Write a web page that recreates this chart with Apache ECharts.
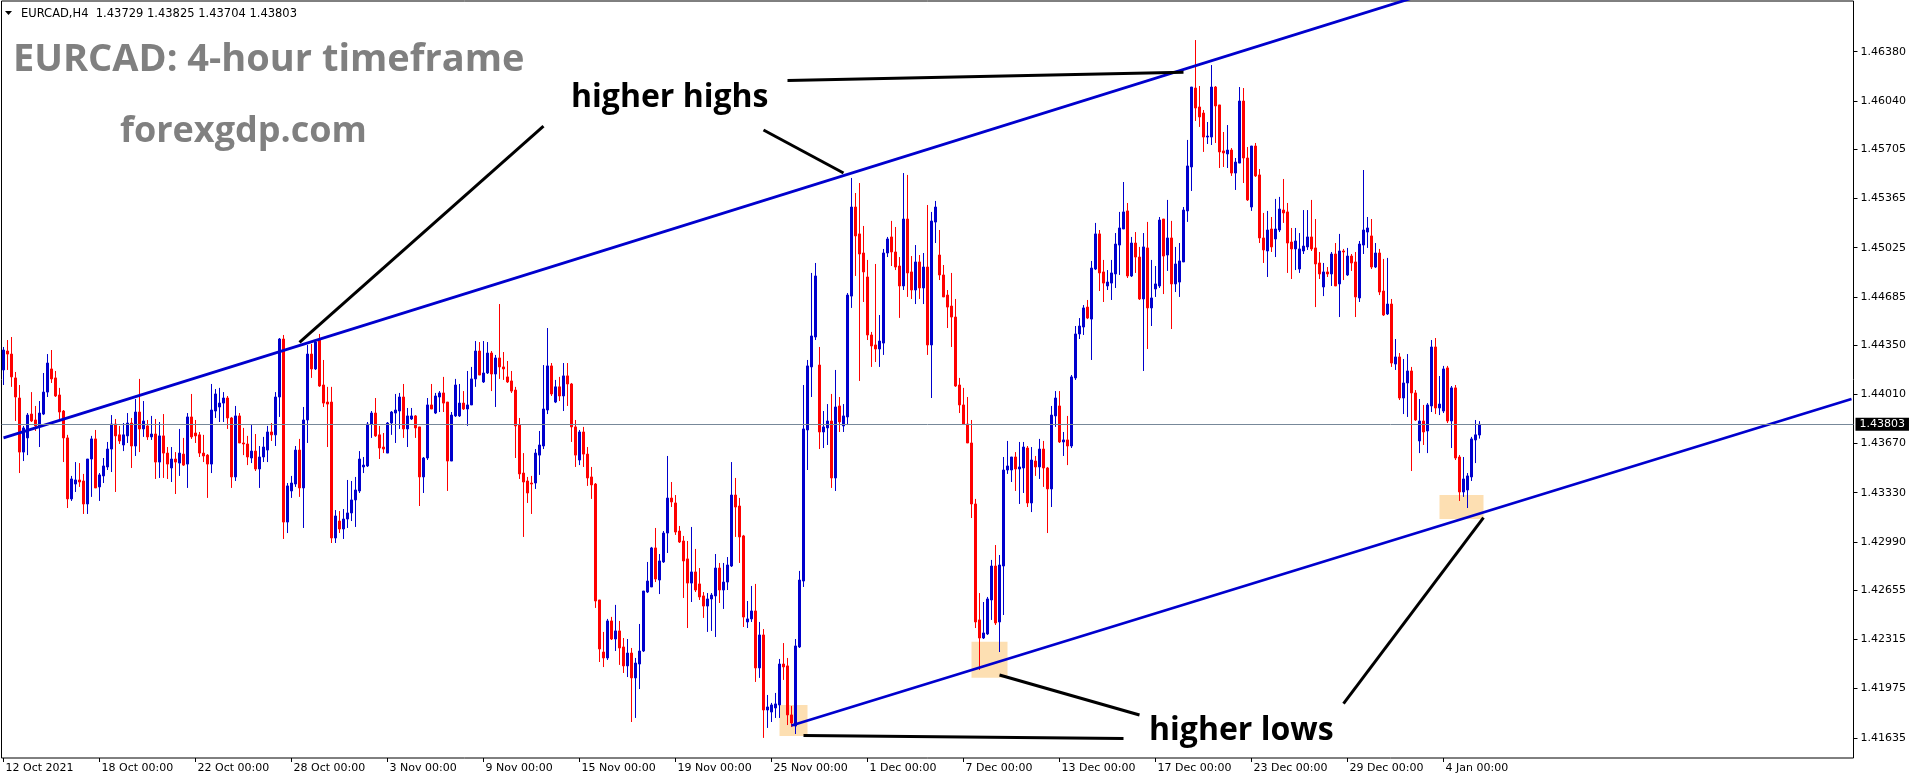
<!DOCTYPE html>
<html>
<head>
<meta charset="utf-8">
<script src="https://cdn.jsdelivr.net/npm/echarts@6/dist/echarts.min.js"></script>
<style>
html,body{margin:0;padding:0;background:#fff;}
#chart{width:1916px;height:780px;}
</style>
</head>
<body>
<div id="chart"></div>
<script>
// ---- EURCAD H4 candles ----
const opens = [
1.44179,1.44310,1.44289,1.44124,1.43985,1.43611,1.43709,1.43874,1.43833,1.43792,
1.43874,1.44026,1.44186,1.44124,1.44006,1.43895,1.43709,1.43287,1.43390,1.43418,
1.43411,1.43252,1.43563,1.43702,1.43370,1.43446,1.43508,1.43632,1.43805,1.43730,
1.43660,1.43723,1.43812,1.43653,1.43888,1.43771,1.43792,1.43716,1.43736,1.43542,
1.43723,1.43604,1.43501,1.43563,1.43535,1.43597,1.43528,1.43854,1.43743,1.43730,
1.43604,1.43590,1.43528,1.43895,1.43923,1.43950,1.43985,1.43847,1.43439,1.43861,
1.43674,1.43667,1.43570,1.43618,1.43494,1.43577,1.43625,1.43750,1.43730,1.43992,
1.44393,1.43127,1.43342,1.43390,1.43625,1.43363,1.43833,1.44289,1.44186,1.44386,
1.44075,1.43957,1.43957,1.43017,1.43134,1.43079,1.43148,1.43190,1.43280,1.43342,
1.43508,1.43515,1.43805,1.43881,1.43730,1.43646,1.43604,1.43812,1.43881,1.43895,
1.43992,1.43771,1.43840,1.43861,1.43785,1.43439,1.43570,1.43937,1.43881,1.43992,
1.44020,1.43957,1.43549,1.43861,1.43861,1.43950,1.43909,1.43937,1.44117,1.44310,
1.44096,1.44158,1.44296,1.44151,1.44262,1.44200,1.44131,1.44103,1.44040,1.43798,
1.43466,1.43411,1.43397,1.43397,1.43590,1.43653,1.43902,1.44207,1.43957,1.44062,
1.43999,1.44138,1.44082,1.43785,1.43556,1.43750,1.43597,1.43439,1.43390,1.42588,
1.42228,1.42187,1.42443,1.42318,1.42374,1.42263,1.42132,1.42221,1.42049,1.42145,
1.42235,1.42643,1.42678,1.42948,1.42726,1.42851,1.43051,1.43293,1.43259,1.43065,
1.42996,1.42872,1.42705,1.42782,1.42699,1.42616,1.42546,1.42595,1.42616,1.42809,
1.42657,1.42712,1.42823,1.43314,1.43238,1.43031,1.42436,1.42457,1.42512,1.42118,
1.42346,1.41827,1.41813,1.41841,1.41862,1.42145,1.42132,1.41793,1.41716,1.42263,
1.42719,1.43764,1.44200,1.44407,1.44213,1.43750,1.43778,1.43826,1.43432,1.43930,
1.43792,1.43854,1.44690,1.45306,1.45120,1.44988,1.44822,1.44421,1.44352,1.44324,
1.44365,1.44988,1.45099,1.44995,1.44898,1.44760,1.45223,1.44857,1.44732,1.44926,
1.44746,1.44891,1.44352,1.45202,1.44974,1.44836,1.44697,1.44621,1.44545,1.44075,
1.43937,1.43805,1.43674,1.43252,1.42450,1.42325,1.42353,1.42588,1.42823,1.42436,
1.42823,1.43487,1.43487,1.43577,1.43494,1.43501,1.43639,1.43259,1.43549,1.43508,
1.43632,1.43501,1.43356,1.43861,1.43930,1.43681,1.43695,1.43653,1.44124,1.44428,
1.44476,1.44614,1.44531,1.44877,1.45120,1.44857,1.44760,1.44780,1.44843,1.45043,
1.45154,1.45279,1.44829,1.45057,1.44960,1.44670,1.45023,1.44608,1.44739,1.44760,
1.45223,1.44974,1.45092,1.44774,1.44787,1.44926,1.45279,1.45583,1.46129,1.45998,
1.45956,1.45790,1.45790,1.46136,1.46012,1.45694,1.45673,1.45700,1.45541,1.45610,
1.46039,1.45645,1.45306,1.45728,1.45528,1.45092,1.45002,1.45154,1.45085,1.45147,
1.45285,1.45272,1.45064,1.45016,1.44877,1.45002,1.45030,1.45099,1.45023,1.44919,
1.44753,1.44857,1.44843,1.44981,1.44774,1.45002,1.44836,1.44967,1.44926,1.44677,
1.45043,1.45133,1.45106,1.44891,1.44988,1.44725,1.44566,1.44635,1.44220,1.44269,
1.43985,1.44089,1.44172,1.44020,1.43688,1.43826,1.43757,1.43930,1.44338,1.43916,
1.43895,1.44193,1.43826,1.44055,1.43577,1.43335,1.43349,1.43439,1.43695,1.43729
];
const closes = [
1.44317,1.44289,1.44131,1.43992,1.43611,1.43778,1.43867,1.43826,1.43792,1.43881,
1.44026,1.44227,1.44117,1.43999,1.43888,1.43709,1.43287,1.43425,1.43418,1.43404,
1.43252,1.43563,1.43702,1.43363,1.43453,1.43515,1.43632,1.43805,1.43723,1.43688,
1.43730,1.43812,1.43653,1.43888,1.43771,1.43826,1.43716,1.43736,1.43542,1.43723,
1.43604,1.43528,1.43563,1.43542,1.43604,1.43521,1.43854,1.43716,1.43723,1.43604,
1.43584,1.43528,1.43902,1.44013,1.43950,1.43985,1.43847,1.43439,1.43861,1.43674,
1.43667,1.43577,1.43618,1.43494,1.43577,1.43646,1.43750,1.43730,1.43992,1.44393,
1.43127,1.43377,1.43397,1.43625,1.43363,1.43833,1.44289,1.44186,1.44372,1.44068,
1.43950,1.43943,1.43017,1.43169,1.43079,1.43148,1.43190,1.43280,1.43349,1.43563,
1.43521,1.43805,1.43881,1.43723,1.43639,1.43632,1.43812,1.43888,1.43902,1.43992,
1.43771,1.43861,1.43861,1.43778,1.43439,1.43570,1.43937,1.43909,1.43999,1.44020,
1.43950,1.43549,1.43867,1.44075,1.43950,1.43909,1.43937,1.44117,1.44310,1.44144,
1.44158,1.44296,1.44151,1.44262,1.44200,1.44186,1.44096,1.44033,1.43792,1.43460,
1.43404,1.43328,1.43390,1.43604,1.43660,1.43909,1.44207,1.44013,1.44062,1.43999,
1.44138,1.44082,1.43785,1.43590,1.43750,1.43597,1.43432,1.43384,1.42581,1.42249,
1.42187,1.42443,1.42318,1.42374,1.42256,1.42132,1.42221,1.42049,1.42152,1.42235,
1.42650,1.42719,1.42948,1.42733,1.42858,1.43051,1.43293,1.43266,1.43058,1.42989,
1.42858,1.42705,1.42782,1.42657,1.42609,1.42546,1.42595,1.42622,1.42809,1.42657,
1.42712,1.42830,1.43314,1.43231,1.43024,1.42470,1.42457,1.42512,1.42118,1.42346,
1.41827,1.41848,1.41862,1.41869,1.42145,1.42125,1.41793,1.41737,1.42270,1.42726,
1.43771,1.44207,1.44414,1.44829,1.43750,1.43785,1.43826,1.43432,1.43923,1.43819,
1.43861,1.44697,1.45306,1.45106,1.44981,1.44857,1.44421,1.44345,1.44324,1.44379,
1.44988,1.45085,1.44995,1.44891,1.44760,1.45223,1.44850,1.44732,1.44926,1.44746,
1.44891,1.44352,1.45209,1.45306,1.44836,1.44684,1.44614,1.44545,1.44068,1.43937,
1.43805,1.43674,1.43252,1.42436,1.42325,1.42360,1.42595,1.42823,1.42429,1.42830,
1.43487,1.43515,1.43577,1.43494,1.43508,1.43646,1.43259,1.43556,1.43508,1.43632,
1.43501,1.43356,1.43867,1.43985,1.43681,1.43695,1.43653,1.44131,1.44428,1.44483,
1.44608,1.44538,1.44884,1.45120,1.44850,1.44780,1.44787,1.44850,1.45050,1.45161,
1.45272,1.44829,1.45057,1.44960,1.44670,1.45030,1.44608,1.44677,1.44774,1.45216,
1.44967,1.45092,1.44774,1.44912,1.44933,1.45285,1.45590,1.46136,1.45991,1.45929,
1.45790,1.45797,1.46136,1.46005,1.45687,1.45680,1.45700,1.45541,1.45617,1.46039,
1.45645,1.45355,1.45728,1.45521,1.45092,1.45009,1.45147,1.45030,1.45154,1.45292,
1.45265,1.45057,1.45016,1.45071,1.45016,1.45036,1.45099,1.45016,1.44912,1.44843,
1.44857,1.44843,1.44981,1.44760,1.45002,1.44995,1.44967,1.44919,1.44684,1.45050,
1.45147,1.45161,1.44891,1.44988,1.44718,1.44559,1.44635,1.44227,1.44269,1.43985,
1.44089,1.44172,1.44020,1.43833,1.43826,1.43750,1.43937,1.44338,1.43916,1.43943,
1.44186,1.43826,1.44055,1.43570,1.43335,1.43425,1.43446,1.43702,1.43730,1.43803
];
const highs = [
1.44338,1.44386,1.44407,1.44165,1.44075,1.43792,1.43881,1.44026,1.43930,1.43964,
1.44158,1.44289,1.44317,1.44172,1.44055,1.43902,1.43730,1.43446,1.43542,1.43535,
1.43460,1.43563,1.43723,1.43764,1.43466,1.43570,1.43681,1.43867,1.43840,1.43792,
1.43812,1.43881,1.43847,1.43978,1.44117,1.43964,1.43833,1.43861,1.43840,1.43819,
1.43874,1.43646,1.43646,1.43611,1.43771,1.43709,1.43881,1.44013,1.43833,1.43750,
1.43730,1.43597,1.44082,1.44047,1.44055,1.44026,1.43999,1.43854,1.43930,1.43881,
1.43778,1.43723,1.43798,1.43736,1.43653,1.43716,1.43792,1.43812,1.44026,1.44400,
1.44421,1.43397,1.43446,1.43653,1.43702,1.43923,1.44352,1.44359,1.44379,1.44428,
1.44248,1.44062,1.44062,1.43210,1.43203,1.43217,1.43418,1.43411,1.43439,1.43618,
1.43577,1.43819,1.43895,1.43985,1.43792,1.43743,1.43819,1.43895,1.44013,1.44020,
1.44082,1.43916,1.43916,1.43867,1.43785,1.43577,1.43985,1.44082,1.44020,1.44033,
1.44131,1.43957,1.43888,1.44117,1.44082,1.44033,1.44172,1.44200,1.44379,1.44372,
1.44379,1.44372,1.44310,1.44283,1.44635,1.44303,1.44241,1.44172,1.44062,1.43847,
1.43604,1.43439,1.43446,1.43632,1.43757,1.44213,1.44469,1.44227,1.44110,1.44131,
1.44227,1.44227,1.44089,1.43833,1.43764,1.43785,1.43646,1.43508,1.43397,1.42588,
1.42367,1.42457,1.42471,1.42554,1.42443,1.42325,1.42318,1.42256,1.42187,1.42422,
1.42650,1.42851,1.42955,1.43086,1.42906,1.43065,1.43584,1.43404,1.43314,1.43100,
1.43031,1.42996,1.43093,1.42941,1.42809,1.42643,1.42636,1.42636,1.42906,1.42844,
1.42844,1.42885,1.43542,1.43432,1.43294,1.43038,1.42581,1.42685,1.42699,1.42436,
1.42387,1.41931,1.41876,1.41945,1.42180,1.42290,1.42187,1.41855,1.42318,1.42789,
1.44075,1.44248,1.44850,1.44919,1.44338,1.43895,1.43943,1.44013,1.44179,1.43992,
1.43943,1.44711,1.45507,1.45403,1.45472,1.45175,1.44940,1.44442,1.44912,1.44559,
1.45016,1.45099,1.45210,1.45168,1.44960,1.45541,1.45528,1.44967,1.45043,1.44974,
1.44988,1.45320,1.45272,1.45348,1.45147,1.44905,1.44732,1.44850,1.44670,1.44124,
1.44055,1.43992,1.43833,1.43287,1.42636,1.42574,1.42609,1.42865,1.42968,1.42899,
1.43577,1.43688,1.43577,1.43611,1.43681,1.43681,1.43653,1.43646,1.43584,1.43702,
1.43688,1.43508,1.43930,1.44033,1.44033,1.43750,1.43861,1.44144,1.44483,1.44538,
1.44628,1.44663,1.44933,1.45196,1.45147,1.44940,1.44870,1.44940,1.45126,1.45272,
1.45479,1.45334,1.45099,1.45133,1.45030,1.45126,1.45203,1.44940,1.44898,1.45237,
1.45223,1.45355,1.45210,1.45030,1.45057,1.45306,1.45770,1.46136,1.46461,1.46143,
1.45977,1.45894,1.46288,1.46143,1.46012,1.45825,1.45873,1.45714,1.45645,1.46136,
1.46129,1.45721,1.45728,1.45749,1.45569,1.45265,1.45279,1.45237,1.45362,1.45376,
1.45500,1.45334,1.45161,1.45161,1.45126,1.45285,1.45285,1.45355,1.45223,1.44995,
1.44919,1.44891,1.44995,1.45057,1.45120,1.45016,1.45023,1.44981,1.44995,1.45071,
1.45562,1.45237,1.45223,1.45057,1.45016,1.44947,1.44954,1.44670,1.44393,1.44296,
1.44255,1.44289,1.44200,1.44040,1.43978,1.43937,1.43950,1.44386,1.44400,1.44137,
1.44207,1.44207,1.44068,1.44075,1.43591,1.43577,1.43466,1.43716,1.43833,1.43825
];
const lows = [
1.44075,1.44179,1.44062,1.43826,1.43466,1.43549,1.43590,1.43819,1.43757,1.43646,
1.43867,1.43992,1.44089,1.43992,1.43833,1.43542,1.43224,1.43273,1.43335,1.43370,
1.43183,1.43183,1.43301,1.43363,1.43273,1.43397,1.43487,1.43473,1.43335,1.43667,
1.43618,1.43674,1.43501,1.43584,1.43611,1.43716,1.43695,1.43695,1.43425,1.43432,
1.43432,1.43425,1.43404,1.43321,1.43446,1.43515,1.43363,1.43702,1.43674,1.43577,
1.43542,1.43294,1.43466,1.43847,1.43819,1.43819,1.43771,1.43363,1.43411,1.43674,
1.43590,1.43521,1.43535,1.43480,1.43363,1.43542,1.43542,1.43688,1.43653,1.43854,
1.43010,1.43051,1.43294,1.43370,1.43301,1.43086,1.43674,1.44124,1.44179,1.44062,
1.43923,1.43646,1.42982,1.42982,1.43051,1.43010,1.43086,1.43134,1.43093,1.43328,
1.43466,1.43508,1.43709,1.43716,1.43563,1.43604,1.43604,1.43730,1.43674,1.43771,
1.43709,1.43646,1.43833,1.43709,1.43238,1.43328,1.43556,1.43909,1.43874,1.43888,
1.43888,1.43342,1.43549,1.43854,1.43854,1.43902,1.43792,1.43937,1.44062,1.44144,
1.44089,1.44151,1.44033,1.43923,1.44117,1.44110,1.44089,1.44020,1.43570,1.43425,
1.43024,1.43259,1.43183,1.43356,1.43453,1.43632,1.43874,1.43999,1.43950,1.43964,
1.43895,1.43930,1.43681,1.43508,1.43521,1.43508,1.43377,1.43287,1.42533,1.42159,
1.42124,1.42173,1.42311,1.42235,1.42139,1.42083,1.42055,1.41744,1.41772,1.41972,
1.42228,1.42636,1.42678,1.42712,1.42629,1.42844,1.42913,1.43231,1.43038,1.42982,
1.42602,1.42394,1.42574,1.42643,1.42588,1.42464,1.42367,1.42374,1.42332,1.42567,
1.42526,1.42657,1.42816,1.43024,1.42844,1.42401,1.42394,1.42436,1.42021,1.42049,
1.41634,1.41703,1.41744,1.41772,1.41772,1.42035,1.41723,1.41709,1.41661,1.42256,
1.42678,1.43487,1.43992,1.44386,1.43632,1.43639,1.43660,1.43363,1.43342,1.43750,
1.43750,1.43798,1.44608,1.44829,1.44103,1.44649,1.44386,1.44200,1.44234,1.44200,
1.44283,1.44960,1.44898,1.44870,1.44539,1.44732,1.44684,1.44670,1.44635,1.44670,
1.44635,1.44283,1.43985,1.45057,1.44801,1.44684,1.44469,1.44338,1.44062,1.43881,
1.43798,1.43674,1.43155,1.42394,1.42104,1.42318,1.42346,1.42450,1.42415,1.42228,
1.42484,1.43460,1.43404,1.43342,1.43252,1.43328,1.43231,1.43196,1.43446,1.43425,
1.43370,1.43051,1.43231,1.43785,1.43674,1.43584,1.43521,1.43639,1.44110,1.44393,
1.44421,1.44531,1.44248,1.44870,1.44725,1.44649,1.44732,1.44663,1.44746,1.44836,
1.45154,1.44815,1.44822,1.44850,1.44663,1.44172,1.44324,1.44483,1.44684,1.44746,
1.44704,1.44864,1.44462,1.44718,1.44684,1.44926,1.45203,1.45417,1.45901,1.45860,
1.45687,1.45742,1.45735,1.45749,1.45576,1.45583,1.45576,1.45521,1.45424,1.45610,
1.45472,1.45348,1.45279,1.45514,1.45057,1.44919,1.44822,1.44995,1.44960,1.45133,
1.45196,1.44850,1.44808,1.44870,1.44850,1.44981,1.45009,1.45002,1.44614,1.44808,
1.44690,1.44822,1.44760,1.44760,1.44545,1.44801,1.44829,1.44864,1.44545,1.44649,
1.44981,1.45023,1.44877,1.44884,1.44697,1.44552,1.44559,1.44200,1.44179,1.43971,
1.43874,1.43854,1.43480,1.43826,1.43604,1.43660,1.43604,1.43888,1.43874,1.43867,
1.43881,1.43812,1.43639,1.43556,1.43273,1.43301,1.43224,1.43411,1.43535,1.43704
];

// ---- axes ----
const slotCount = 463; // candle slots across the plot (incl. right-hand shift)
const xTickIdx = [0,24,48,72,96,120,144,168,192,216,240,264,288,312,336,360];
const xTickLabels = ['12 Oct 2021','18 Oct 00:00','22 Oct 00:00','28 Oct 00:00','3 Nov 00:00','9 Nov 00:00',
  '15 Nov 00:00','19 Nov 00:00','25 Nov 00:00','1 Dec 00:00','7 Dec 00:00','13 Dec 00:00',
  '17 Dec 00:00','23 Dec 00:00','29 Dec 00:00','4 Jan 00:00'];
const yTickValues = [1.41635,1.41975,1.42315,1.42655,1.42990,1.43330,1.43670,1.44010,
  1.44350,1.44685,1.45025,1.45365,1.45705,1.46040,1.46380];
const yMin = 1.41495, yMax = 1.46731;
const lastPrice = 1.43803;
const header = 'EURCAD,H4  1.43729 1.43825 1.43704 1.43803';

// ---- drawn objects (data coordinates: [candle index, price]) ----
const upperTrend = [[0, 1.43709], [462, 1.47700]];
const lowerTrend = [[197, 1.41720], [462, 1.43978]];
const highsPointers = [
  [[74, 1.44369], [135, 1.45866]],
  [[190, 1.45839], [210, 1.45541]],
  [[196, 1.46181], [295, 1.46238]]
];
const lowsPointers = [
  [[200, 1.41651], [280, 1.41630]],
  [[249, 1.42069], [284, 1.41792]],
  [[335, 1.41871], [370, 1.43158]]
];
const lowBoxes = [
  [[194, 1.41862], [201, 1.41647]],
  [[242, 1.42299], [251, 1.42050]],
  [[359, 1.43314], [370, 1.43148]]
];

const categories = Array.from({length: slotCount}, (_, i) => {
  const k = xTickIdx.indexOf(i);
  return k >= 0 ? xTickLabels[k] : '';
});
const candles = opens.map((o, i) => [o, closes[i], lows[i], highs[i]]);

const AXIS_FONT = 'DejaVu Sans';
const BLUE = '#0000cd';

const series = [
  {
    type: 'line', data: [], z: 1, silent: true,
    markArea: {
      silent: true,
      itemStyle: { color: '#fddfb2' },
      data: lowBoxes.map(b => [{ coord: b[0] }, { coord: b[1] }])
    }
  },
  {
    type: 'candlestick', z: 2, data: candles, barWidth: 2,
    itemStyle: { color: BLUE, color0: '#ff0000', borderColor: BLUE, borderColor0: '#ff0000', borderWidth: 1 },
    markLine: {
      silent: true, symbol: ['none', 'none'], animation: false, precision: 5,
      lineStyle: { color: '#778899', width: 1, type: 'solid' },
      label: {
        show: true, position: 'end', distance: 2, formatter: lastPrice.toFixed(5),
        backgroundColor: '#000', color: '#fff', fontFamily: AXIS_FONT, fontSize: 11, padding: [1, 4, 1, 4]
      },
      data: [{ yAxis: lastPrice }]
    }
  },
  { type: 'line', z: 3, data: upperTrend, symbol: 'none', lineStyle: { color: BLUE, width: 2.8 }, clip: true, silent: true },
  { type: 'line', z: 3, data: lowerTrend, symbol: 'none', lineStyle: { color: BLUE, width: 2.8 }, clip: true, silent: true }
];
highsPointers.concat(lowsPointers).forEach(seg => {
  series.push({ type: 'line', z: 4, data: seg, symbol: 'none', lineStyle: { color: '#000', width: 3 }, clip: false, silent: true });
});

const chart = echarts.init(document.getElementById('chart'), null, { renderer: 'canvas' });
chart.setOption({
  animation: false,
  backgroundColor: '#fff',
  grid: { left: 1.5, right: 62.5, top: 1, bottom: 22, show: true, borderColor: '#000', borderWidth: 1, backgroundColor: '#fff' },
  xAxis: {
    type: 'category', data: categories, boundaryGap: true,
    axisLine: { show: false },
    axisTick: {
      show: true, alignWithLabel: true, length: 4, lineStyle: { color: '#000' },
      interval: (idx) => categories[idx] !== ''
    },
    axisLabel: {
      interval: (idx) => categories[idx] !== '',
      align: 'left', margin: 5, padding: [0, 0, 0, 2],
      color: '#000', fontFamily: AXIS_FONT, fontSize: 11
    },
    splitLine: { show: false }
  },
  yAxis: {
    type: 'value', position: 'right', min: yMin, max: yMax, scale: true,
    axisLine: { show: false },
    splitLine: { show: false },
    axisTick: { show: true, length: 4, lineStyle: { color: '#000' }, customValues: yTickValues },
    axisLabel: {
      customValues: yTickValues, formatter: v => v.toFixed(5),
      margin: 7, color: '#000', fontFamily: AXIS_FONT, fontSize: 11
    }
  },
  series: series,
  graphic: [
    { type: 'polygon', shape: { points: [[5, 11], [12, 11], [8.5, 15]] }, style: { fill: '#000' }, z: 10 },
    { type: 'text', x: 21, y: 14, z: 10, style: { text: header, fill: '#000', font: '11.5px "DejaVu Sans"', align: 'left', verticalAlign: 'middle', textAlign: 'left', textVerticalAlign: 'middle' } },
    { type: 'text', x: 13, y: 60.5, z: 10, style: { text: 'EURCAD: 4-hour timeframe', fill: '#808080', font: 'bold 38px "Open Sans"', align: 'left', verticalAlign: 'middle', textAlign: 'left', textVerticalAlign: 'middle' } },
    { type: 'text', x: 120, y: 132, z: 10, style: { text: 'forexgdp.com', fill: '#808080', font: 'bold 36px "Open Sans"', align: 'left', verticalAlign: 'middle', textAlign: 'left', textVerticalAlign: 'middle' } },
    { type: 'text', x: 571, y: 98, z: 10, style: { text: 'higher highs', fill: '#000', font: 'bold 32px "Open Sans"', align: 'left', verticalAlign: 'middle', textAlign: 'left', textVerticalAlign: 'middle' } },
    { type: 'text', x: 1149, y: 731, z: 10, style: { text: 'higher lows', fill: '#000', font: 'bold 32px "Open Sans"', align: 'left', verticalAlign: 'middle', textAlign: 'left', textVerticalAlign: 'middle' } }
  ]
});
</script>
</body>
</html>
